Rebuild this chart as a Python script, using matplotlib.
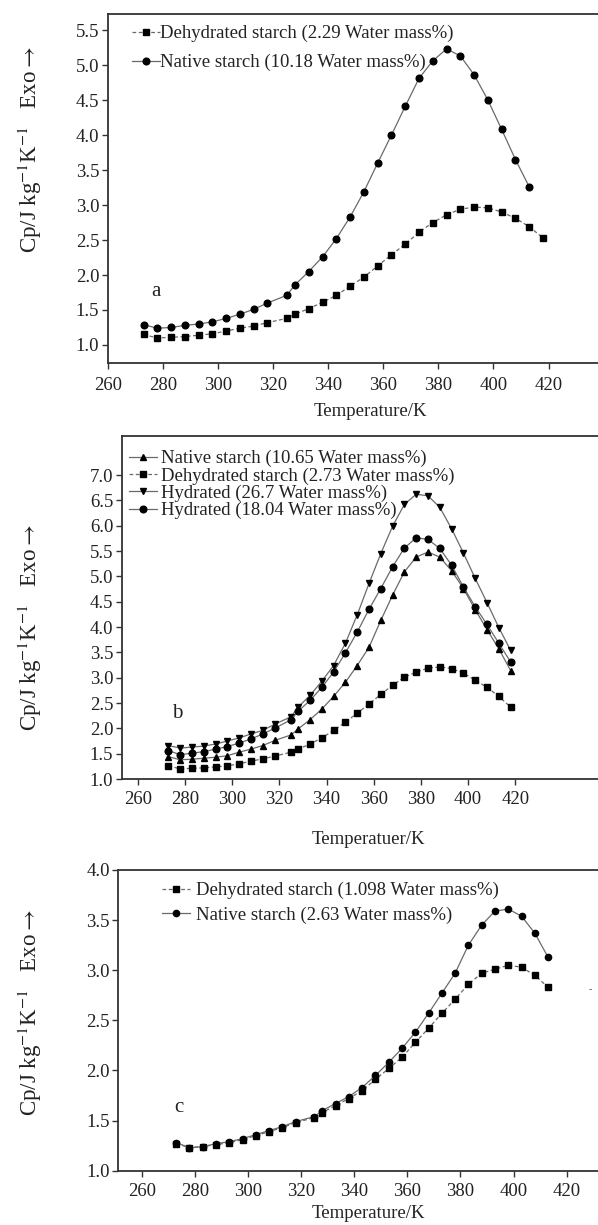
import matplotlib
matplotlib.use("Agg")
import matplotlib.pyplot as plt

plt.rcParams['font.family'] = ['Liberation Serif', 'DejaVu Serif']
plt.rcParams['mathtext.fontset'] = 'stix'

# ---------------- data ----------------
# Panel a
temp_a_native = [273, 278, 283, 288, 293, 298, 303, 308, 313, 318, 325, 328, 333, 338, 343,
                 348, 353, 358, 363, 368, 373, 378, 383, 388, 393, 398, 403, 408, 413]
cp_a_native = [1.29, 1.24, 1.25, 1.28, 1.30, 1.33, 1.38, 1.44, 1.51, 1.60, 1.71, 1.86, 2.05, 2.26, 2.52,
               2.83, 3.19, 3.60, 4.00, 4.41, 4.81, 5.06, 5.23, 5.13, 4.86, 4.50, 4.08, 3.65, 3.26]
temp_a_dehyd = [273, 278, 283, 288, 293, 298, 303, 308, 313, 318, 325, 328, 333, 338, 343,
                348, 353, 358, 363, 368, 373, 378, 383, 388, 393, 398, 403, 408, 413, 418]
cp_a_dehyd = [1.15, 1.10, 1.11, 1.12, 1.14, 1.16, 1.20, 1.24, 1.27, 1.32, 1.38, 1.44, 1.52, 1.61, 1.71,
              1.84, 1.97, 2.13, 2.29, 2.44, 2.61, 2.75, 2.86, 2.94, 2.97, 2.96, 2.90, 2.81, 2.69, 2.53]

# Panel b
temp_b = [273, 278, 283, 288, 293, 298, 303, 308, 313, 318, 325, 328, 333, 338, 343,
          348, 353, 358, 363, 368, 373, 378, 383, 388, 393, 398, 403, 408, 413, 418]
cp_b_native = [1.44, 1.38, 1.39, 1.41, 1.43, 1.46, 1.53, 1.59, 1.66, 1.76, 1.87, 1.99, 2.17, 2.38, 2.63,
               2.91, 3.24, 3.60, 4.13, 4.63, 5.09, 5.38, 5.48, 5.38, 5.11, 4.76, 4.34, 3.95, 3.57, 3.14]
cp_b_dehyd = [1.26, 1.20, 1.21, 1.22, 1.24, 1.26, 1.30, 1.35, 1.40, 1.45, 1.53, 1.59, 1.69, 1.81, 1.96,
              2.12, 2.30, 2.48, 2.67, 2.85, 3.01, 3.11, 3.19, 3.21, 3.18, 3.09, 2.95, 2.81, 2.63, 2.42]
cp_b_hyd267 = [1.66, 1.61, 1.63, 1.65, 1.69, 1.75, 1.81, 1.89, 1.96, 2.08, 2.23, 2.42, 2.65, 2.93, 3.24,
               3.68, 4.24, 4.86, 5.45, 5.99, 6.42, 6.62, 6.59, 6.36, 5.94, 5.46, 4.96, 4.48, 3.99, 3.54]
cp_b_hyd1804 = [1.56, 1.48, 1.51, 1.54, 1.59, 1.64, 1.71, 1.79, 1.89, 2.00, 2.17, 2.34, 2.55, 2.81, 3.11,
                3.49, 3.90, 4.35, 4.76, 5.19, 5.56, 5.76, 5.73, 5.55, 5.22, 4.79, 4.40, 4.05, 3.68, 3.31]

# Panel c
temp_c = [273, 278, 283, 288, 293, 298, 303, 308, 313, 318, 325, 328, 333, 338, 343,
          348, 353, 358, 363, 368, 373, 378, 383, 388, 393, 398, 403, 408, 413]
cp_c_dehyd = [1.27, 1.23, 1.24, 1.26, 1.28, 1.31, 1.35, 1.39, 1.43, 1.48, 1.53, 1.58, 1.65, 1.72, 1.80,
              1.91, 2.02, 2.13, 2.28, 2.42, 2.57, 2.71, 2.86, 2.97, 3.01, 3.05, 3.03, 2.95, 2.83]
cp_c_native = [1.28, 1.23, 1.24, 1.27, 1.29, 1.32, 1.36, 1.40, 1.44, 1.49, 1.54, 1.60, 1.67, 1.74, 1.83,
               1.95, 2.08, 2.22, 2.38, 2.57, 2.77, 2.97, 3.25, 3.45, 3.59, 3.61, 3.54, 3.37, 3.13]

labels_a = ["Dehydrated starch (2.29 Water mass%)", "Native starch (10.18 Water mass%)"]
labels_b = ["Native starch (10.65 Water mass%)", "Dehydrated starch (2.73 Water mass%)",
            "Hydrated (26.7 Water mass%)", "Hydrated (18.04 Water mass%)"]
labels_c = ["Dehydrated starch (1.098 Water mass%)", "Native starch (2.63 Water mass%)"]

xticks = [260, 280, 300, 320, 340, 360, 380, 400, 420]
yticks_a = [1.0, 1.5, 2.0, 2.5, 3.0, 3.5, 4.0, 4.5, 5.0, 5.5]
yticks_b = [1.0, 1.5, 2.0, 2.5, 3.0, 3.5, 4.0, 4.5, 5.0, 5.5, 6.0, 6.5, 7.0]
yticks_c = [1.0, 1.5, 2.0, 2.5, 3.0, 3.5, 4.0]

# ---------------- figure ----------------
W, H = 598, 1225
fig = plt.figure(figsize=(W / 100, H / 100), dpi=100)

LC = '#6a6a6a'
FS = 13.5
TC = '#222222'

def px_axes(left, top, right, bottom):
    return fig.add_axes([left / W, 1 - bottom / H, (right - left) / W, (bottom - top) / H])

def style(ax, yt, xpad):
    for s in ['left', 'bottom', 'top', 'right']:
        ax.spines[s].set_linewidth(1.3)
        ax.spines[s].set_color('#333333')
    ax.spines['right'].set_visible(False)
    ax.set_xticks(xticks)
    ax.set_yticks(yt)
    ax.set_yticklabels([f"{v:.1f}" for v in yt])
    ax.tick_params(direction='out', length=4, width=1.0, color='#333333',
                   labelsize=FS, pad=2, labelcolor=TC)
    ax.tick_params(axis='x', pad=xpad)

def ylab(y):
    fig.text(30 / W, 1 - y / H, "Cp/J kg$^{-1}$K$^{-1}$   Exo$\\rightarrow$", rotation=90,
             ha='center', va='center', fontsize=16.5, color=TC)

mk = dict(color=LC, lw=0.9, markerfacecolor='black', markeredgecolor='black')
dash = (0, (3, 2))

# ---- panel a ----
axa = px_axes(107.7, 14, 603.6, 362.7)
axa.plot(temp_a_dehyd, cp_a_dehyd, marker='s', ms=4.3, ls=dash, label=labels_a[0], **mk)
axa.plot(temp_a_native, cp_a_native, marker='o', ms=4.8, ls='-', label=labels_a[1], **mk)
axa.set_xlim(260, 440)
axa.set_ylim(0.747, 5.729)
style(axa, yticks_a, 6)
axa.legend(loc='upper left', bbox_to_anchor=(132 / W, 1 - 25 / H), bbox_transform=fig.transFigure,
           frameon=False, fontsize=FS, handlelength=1.5, handletextpad=0.0, labelspacing=0.62,
           borderpad=0, borderaxespad=0, labelcolor=TC)
fig.text(156 / W, 1 - 292 / H, "a", ha='center', va='center', fontsize=15, color=TC)
fig.text(370 / W, 1 - 411 / H, "Temperature/K", ha='center', va='center', fontsize=FS, color=TC)
ylab(150)

# ---- panel b ----
axb = px_axes(121.7, 436, 605, 779)
axb.plot(temp_b, cp_b_native, marker='^', ms=5, ls='-', label=labels_b[0], **mk)
axb.plot(temp_b, cp_b_dehyd, marker='s', ms=4.3, ls=dash, label=labels_b[1], **mk)
axb.plot(temp_b, cp_b_hyd267, marker='v', ms=5, ls='-', label=labels_b[2], **mk)
axb.plot(temp_b, cp_b_hyd1804, marker='o', ms=4.8, ls='-', label=labels_b[3], **mk)
axb.set_xlim(253.2, 458)
axb.set_ylim(1.0, 7.77)
style(axb, yticks_b, 4.5)
axb.legend(loc='upper left', bbox_to_anchor=(129 / W, 1 - 450 / H), bbox_transform=fig.transFigure,
           frameon=False, fontsize=FS, handlelength=1.5, handletextpad=0.2, labelspacing=0.0,
           borderpad=0, borderaxespad=0, labelcolor=TC)
fig.text(177 / W, 1 - 713 / H, "b", ha='center', va='center', fontsize=15, color=TC)
fig.text(368 / W, 1 - 839 / H, "Temperatuer/K", ha='center', va='center', fontsize=FS, color=TC)
ylab(628)

# ---- panel c ----
axc = px_axes(118.3, 870, 606.5, 1170.7)
axc.plot(temp_c, cp_c_dehyd, marker='s', ms=4.3, ls=dash, label=labels_c[0], **mk)
axc.plot(temp_c, cp_c_native, marker='o', ms=4.5, ls='-', label=labels_c[1], **mk)
axc.set_xlim(251.2, 435)
axc.set_ylim(1.0, 4.0)
style(axc, yticks_c, 4.5)
axc.legend(loc='upper left', bbox_to_anchor=(162 / W, 1 - 882 / H), bbox_transform=fig.transFigure,
           frameon=False, fontsize=FS, handlelength=1.5, handletextpad=0.3, labelspacing=0.37,
           borderpad=0, borderaxespad=0, labelcolor=TC)
fig.text(179 / W, 1 - 1108 / H, "c", ha='center', va='center', fontsize=15, color=TC)
fig.text(368 / W, 1 - 1214 / H, "Temperature/K", ha='center', va='center', fontsize=FS, color=TC)
fig.text(590 / W, 1 - 990 / H, "-", ha='center', va='center', fontsize=7, color='#555555')
ylab(1013)

fig.savefig("out.png", dpi=100)
